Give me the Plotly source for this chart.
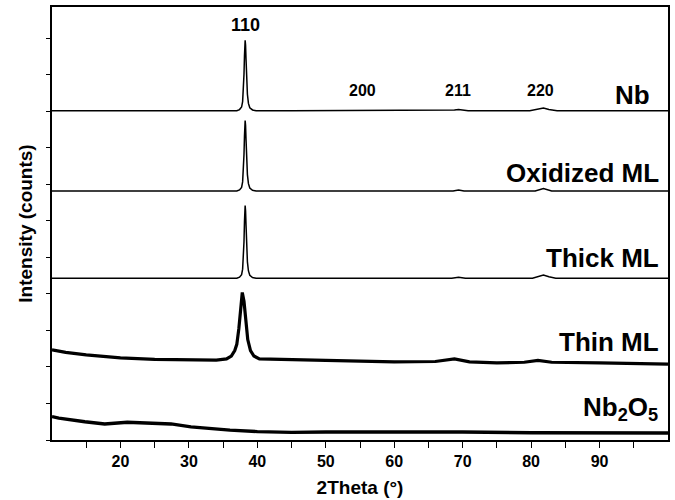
import plotly.graph_objects as go

# ---- data (arbitrary stacked intensity units) ----
series_names = ["Nb", "Oxidized ML", "Thick ML", "Thin ML", "Nb2O5"]
offsets = [9.02, 6.82, 4.43, 0.0, 0.0]

peak_x = [37.0, 37.4, 37.7, 37.85, 37.95, 38.05, 38.12, 38.18, 38.22, 38.28, 38.35, 38.45, 38.55, 38.7, 38.9, 39.3, 39.8]
peak_nb = [0.0, 0.03, 0.1, 0.25, 0.5, 1.0, 1.5, 1.85, 1.93, 1.8, 1.4, 0.85, 0.45, 0.2, 0.08, 0.02, 0.0]
peak_ox = [0.0, 0.03, 0.1, 0.25, 0.5, 1.0, 1.5, 1.85, 1.93, 1.8, 1.4, 0.85, 0.45, 0.2, 0.08, 0.02, 0.0]
peak_thick = [0.0, 0.03, 0.1, 0.25, 0.5, 1.0, 1.55, 1.9, 1.99, 1.85, 1.45, 0.85, 0.45, 0.2, 0.08, 0.02, 0.0]

nb_x = [10, 20, 30, 36] + peak_x + [45, 54.8, 55.4, 56.0, 60, 68.0, 68.8, 69.4, 70.0, 70.8, 79.8, 81.0, 81.8, 82.6, 83.8, 90, 100]
nb_y = [0, 0, 0, 0] + peak_nb + [0, 0.0, 0.02, 0.0, 0, 0.0, 0.02, 0.035, 0.02, 0.0, 0.0, 0.03, 0.07, 0.03, 0.0, 0, 0]

ox_x = [10, 20, 30, 36] + peak_x + [50, 68.6, 69.4, 70.2, 80.6, 81.8, 83.0, 90, 100]
ox_y = [0, 0, 0, 0] + peak_ox + [0, 0.0, 0.03, 0.0, 0.0, 0.07, 0.0, 0, 0]

thick_x = [10, 20, 30, 36] + peak_x + [50, 68.4, 69.4, 70.4, 80.2, 81.0, 81.8, 82.6, 83.6, 90, 94.6, 95.0, 95.4, 100]
thick_y = [0, 0, 0, 0] + peak_thick + [0, 0.0, 0.03, 0.0, 0.0, 0.04, 0.09, 0.04, 0.0, 0, 0.0, 0.02, 0.0, 0]

thin_x = [10, 12, 15, 20, 25, 30, 34, 35.5, 36.2, 36.7, 37.0, 37.3, 37.55, 37.8, 38.05, 38.3, 38.6, 39.0, 39.5, 40.3, 45, 50, 60, 66, 68.8, 71, 75, 79, 81, 83, 90, 100]
thin_y = [2.47, 2.40, 2.33, 2.25, 2.21, 2.19, 2.19, 2.22, 2.3, 2.45, 2.62, 3.05, 3.65, 4.04, 3.8, 3.25, 2.75, 2.45, 2.3, 2.22, 2.19, 2.18, 2.14, 2.15, 2.22, 2.14, 2.11, 2.13, 2.18, 2.13, 2.11, 2.08]

nbo_x = [10, 11, 14.8, 17.7, 21, 25.5, 27.4, 30.3, 33.3, 36, 40, 45, 50, 60, 70, 80, 95, 100]
nbo_y = [0.64, 0.6, 0.5, 0.44, 0.485, 0.455, 0.44, 0.36, 0.31, 0.27, 0.23, 0.21, 0.22, 0.23, 0.22, 0.2, 0.19, 0.19]

peak_labels = ["110", "200", "211", "220"]
peak_pos = [38.2, 55.3, 69.3, 81.3]
peak_label_y = [11.37, 9.57, 9.57, 9.57]

label_texts = ["<b>Nb</b>", "<b>Oxidized ML</b>", "<b>Thick ML</b>", "<b>Thin ML</b>", "<b>Nb<sub>2</sub>O<sub>5</sub></b>"]
label_x = [97.6, 99.0, 99.0, 99.0, 98.9]
label_y = [9.45, 7.32, 4.98, 2.69, 0.85]

x_tickvals = [20, 30, 40, 50, 60, 70, 80, 90]
x_ticktext = ["20", "30", "40", "50", "60", "70", "80", "90"]
x_minor_tickvals = [15, 25, 35, 45, 55, 65, 75, 85, 95]

FONT = "Liberation Sans, Arial, sans-serif"

fig = go.Figure()
traces = [
    (nb_x, nb_y, offsets[0], 1.5),
    (ox_x, ox_y, offsets[1], 1.5),
    (thick_x, thick_y, offsets[2], 1.5),
    (thin_x, thin_y, offsets[3], 3.2),
    (nbo_x, nbo_y, offsets[4], 3.4),
]
for (xs, ys, off, w), name in zip(traces, series_names):
    fig.add_trace(go.Scatter(x=xs, y=[off + v for v in ys], mode="lines", name=name,
                             line=dict(color="black", width=w),
                             showlegend=False, hoverinfo="skip"))

for t, px, py in zip(peak_labels, peak_pos, peak_label_y):
    fig.add_annotation(x=px, y=py, text="<b>%s</b>" % t, showarrow=False,
                       font=dict(family=FONT, size=18 if t == "110" else 16, color="black"))

for t, lx, ly in zip(label_texts, label_x, label_y):
    fig.add_annotation(x=lx, y=ly, text=t, showarrow=False, xanchor="right",
                       font=dict(family=FONT, size=26, color="black"))

fig.update_layout(
    width=675, height=500,
    margin=dict(l=52, r=7, t=7, b=60, autoexpand=False),
    paper_bgcolor="white", plot_bgcolor="white",
    font=dict(family=FONT, color="black"),
)
fig.update_xaxes(range=[10, 100], tickvals=x_tickvals,
                 ticktext=["<b>%s</b>" % t for t in x_ticktext],
                 ticks="outside", ticklen=6, tickwidth=1.3, tickcolor="black",
                 minor=dict(tickvals=x_minor_tickvals, ticks="outside", ticklen=6, tickwidth=1.3, tickcolor="black", showgrid=False),
                 showline=True, linecolor="black", linewidth=1.5, mirror=True,
                 showgrid=False, zeroline=False, automargin=False,
                 tickfont=dict(family=FONT, size=16, color="black"),
                 title=dict(text="<b>2Theta (°)</b>", font=dict(family=FONT, size=19, color="black"), standoff=12))
fig.update_yaxes(range=[0, 11.86], tick0=0, dtick=1, showticklabels=False,
                 ticks="outside", ticklen=4, tickwidth=1.3, tickcolor="black",
                 showline=True, linecolor="black", linewidth=1.5, mirror=True,
                 showgrid=False, zeroline=False, automargin=False,
                 title=dict(text="<b>Intensity (counts)</b>", font=dict(family=FONT, size=19, color="black"), standoff=9))

fig.write_html("out.html", config={"displayModeBar": False},
               post_script="document.body.style.margin='0';document.body.style.padding='0';")
